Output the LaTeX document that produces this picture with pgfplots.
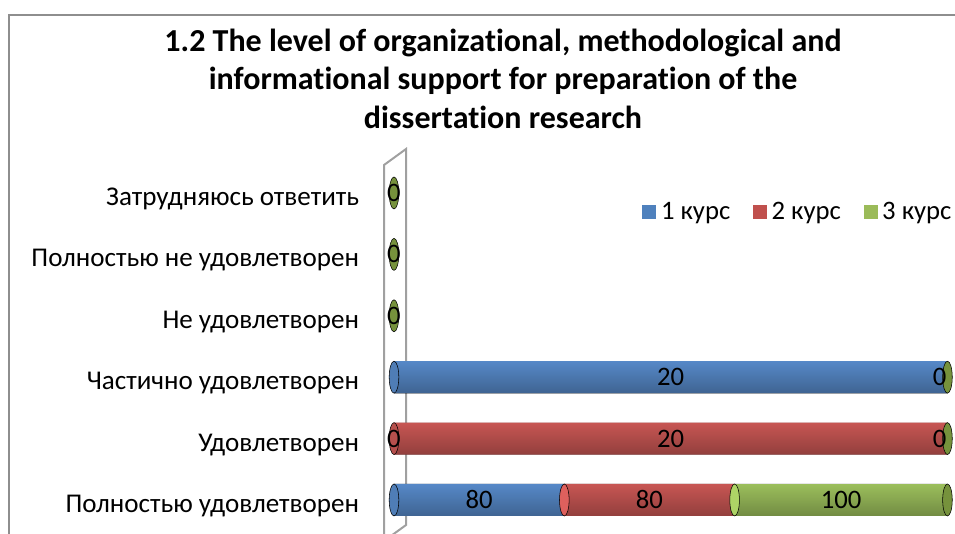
\documentclass[border=0pt]{standalone}
\usepackage{fontspec}
\setmainfont{Carlito}[Ligatures=NoCommon]
\usepackage{pgfplots}
\pgfplotsset{compat=1.18}
\usepackage{pgfplotstable}
\definecolor{cA}{HTML}{4F81BD}
\definecolor{cB}{HTML}{C0504D}
\definecolor{cC}{HTML}{9BBB59}
\definecolor{aM}{HTML}{6098DE}
\definecolor{bM}{HTML}{DE605D}
\definecolor{gM}{HTML}{ADD466}
\definecolor{capg}{HTML}{76923C}
\definecolor{wall}{HTML}{A0A0A0}
\definecolor{frame}{HTML}{8E8E8E}
% percent shares of each row (raw counts: 80/80/100; 0/20/0; 20/0/0; 0/0/0 x3)
\pgfplotstableread{
y a b c
0 30.77 30.77 38.46
1 0 100 0
2 100 0 0
3 0 0 0
4 0 0 0
5 0 0 0
}\shares
\pgfplotsset{cyl/.style={forget plot,xbar,draw=none,blend mode=multiply,
  top color=black!10,middle color=white,bottom color=black!34}}
\begin{document}
\begin{tikzpicture}[x=0.75pt,y=-0.75pt]
\useasboundingbox (0,0) rectangle (955,533);
% chart frame
\draw[frame,line width=1.5pt] (9,545) -- (9,15) -- (970,15);
% title
\node[anchor=north,align=center,font=\fontsize{24}{29}\selectfont\bfseries] at (503,24)
 {1.2 The level of organizational, methodological and\\informational support for preparation of the\\dissertation research};
% back wall
\draw[wall,line width=1.5pt] (384,545) -- (384,165) -- (406,149) -- (406,525) -- (384,541);
\begin{axis}[
  at={(295.5pt,-398pt)}, anchor=south west,
  width=415.1pt, height=276.3pt, scale only axis,
  xmin=0, xmax=100, ymin=-0.5, ymax=5.5,
  axis line style={draw=none}, major tick length=0pt,
  xtick=\empty, ytick={0,...,5},
  yticklabels={Полностью удовлетворен,Удовлетворен,Частично удовлетворен,Не удовлетворен,Полностью не удовлетворен,Затрудняюсь ответить},
  yticklabel style={anchor=east,inner sep=0pt,xshift=-26pt,yshift=-4.5pt,font=\fontsize{20.3}{22}\selectfont},
  bar width=24pt,
  legend style={at={(0.441,0.865)},anchor=west,draw=none,fill=none,legend columns=3,
    font=\fontsize{20}{22}\selectfont, nodes={inner sep=0pt},
    /tikz/every odd column/.append style={column sep=3.5pt},
    /tikz/every even column/.append style={column sep=17pt}},
  clip=false,
]
% left rounded ends
\addplot[forget plot,only marks,mark=*,mark size=12pt,mark options={xscale=0.3,draw=none,fill=aM!82!black}] coordinates {(0,0) (0,2)};
\addplot[forget plot,only marks,mark=*,mark size=12pt,mark options={xscale=0.3,draw=none,fill=bM!82!black}] coordinates {(0,1)};
% stacked bars
\addplot[xbar stacked,draw=none,fill=aM,
  legend image code/.code={\fill[cA] (0pt,-5.25pt) rectangle (10.5pt,5.25pt);}]
  table[x=a,y=y]{\shares};
\addplot[xbar stacked,draw=none,fill=bM,
  legend image code/.code={\fill[cB] (0pt,-5.25pt) rectangle (10.5pt,5.25pt);}]
  table[x=b,y=y]{\shares};
\addplot[xbar stacked,draw=none,fill=gM,
  legend image code/.code={\fill[cC] (0pt,-5.25pt) rectangle (10.5pt,5.25pt);}]
  table[x=c,y=y]{\shares};
\legend{1 курс,2 курс,3 курс}
% rounded joints between segments of the first row
\addplot[forget plot,only marks,mark=*,mark size=12pt,mark options={xscale=0.3,draw=none,fill=bM}] coordinates {(30.77,0)};
\addplot[forget plot,only marks,mark=*,mark size=12pt,mark options={xscale=0.3,draw=none,fill=gM}] coordinates {(61.54,0)};
% cylinder shading, one bar per row
\addplot[cyl] coordinates {(100,0)};
\addplot[cyl] coordinates {(100,1)};
\addplot[cyl] coordinates {(100,2)};
% end caps
\addplot[forget plot,only marks,mark=*,mark size=12pt,mark options={xscale=0.3,draw=none,fill=capg}] coordinates {(100,0) (100,1) (100,2) (0,3) (0,4) (0,5)};
% data labels
\addplot[forget plot,draw=none,mark=none,nodes near coords,point meta=explicit symbolic,
  every node near coord/.append style={anchor=center,font=\fontsize{20}{22}\selectfont,text=black}]
  coordinates {(15.38,0) [80] (46.15,0) [80] (80.77,0) [100] (0,1) [0] (50,1) [20] (98.6,1) [0] (50,2) [20] (98.6,2) [0] (0,3) [0] (0,4) [0] (0,5) [0]};
\end{axis}
\end{tikzpicture}
\end{document}
